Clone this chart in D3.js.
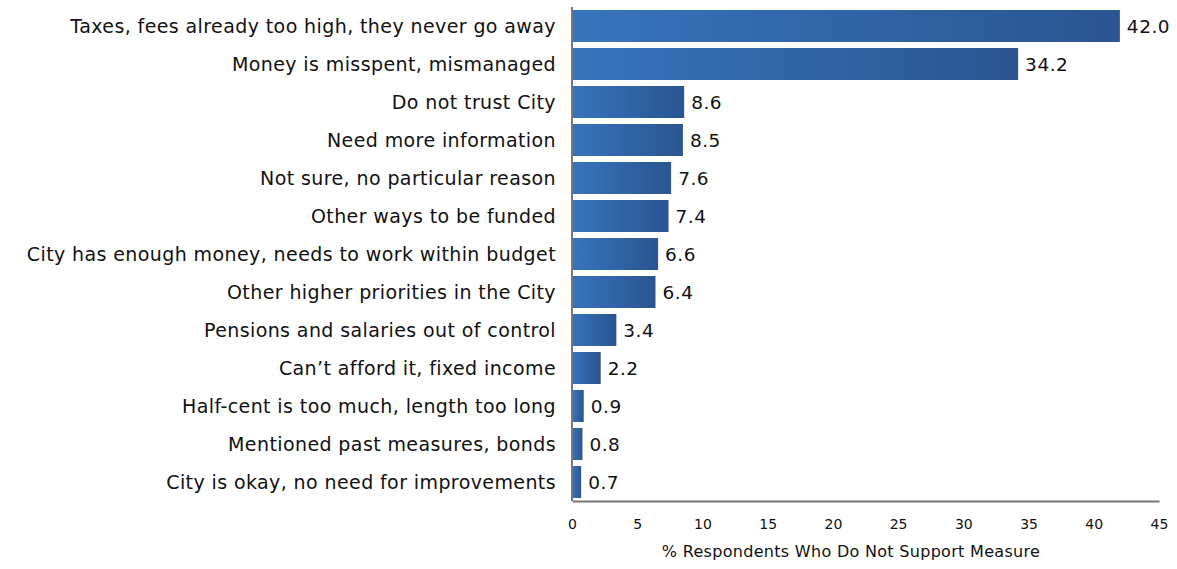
<!DOCTYPE html>
<html>
<head>
<meta charset="utf-8">
<script src="https://cdn.jsdelivr.net/npm/d3@7"></script>
<style>
  html, body { margin: 0; padding: 0; background: #fff; }
  svg { display: block; }
  text { font-family: "DejaVu Sans", sans-serif; fill: #111; }
</style>
</head>
<body>
<svg id="chart" width="1177" height="569"></svg>
<script>
// Reasons given for not supporting the measure
const categories = [
  "Taxes, fees already too high, they never go away",
  "Money is misspent, mismanaged",
  "Do not trust City",
  "Need more information",
  "Not sure, no particular reason",
  "Other ways to be funded",
  "City has enough money, needs to work within budget",
  "Other higher priorities in the City",
  "Pensions and salaries out of control",
  "Can\u2019t afford it, fixed income",
  "Half-cent is too much, length too long",
  "Mentioned past measures, bonds",
  "City is okay, no need for improvements"
];
const values = [42.0, 34.2, 8.6, 8.5, 7.6, 7.4, 6.6, 6.4, 3.4, 2.2, 0.9, 0.8, 0.7];
const xTicks = [0, 5, 10, 15, 20, 25, 30, 35, 40, 45];
const xTitle = "% Respondents Who Do Not Support Measure";

const svg = d3.select("#chart");
const margin = { top: 7, right: 18, bottom: 68, left: 572 };
const W = 1177, H = 569;
const innerW = W - margin.left - margin.right;
const innerH = H - margin.top - margin.bottom;

const x = d3.scaleLinear().domain([0, 45]).range([0, innerW]);
const y = d3.scaleBand().domain(categories).range([0, innerH]).paddingInner(0.158).paddingOuter(0.079);

const defs = svg.append("defs");
const grad = defs.append("linearGradient")
  .attr("id", "barGrad").attr("x1", "0%").attr("x2", "100%").attr("y1", "0%").attr("y2", "0%");
grad.append("stop").attr("offset", "0%").attr("stop-color", "#3774bd");
grad.append("stop").attr("offset", "100%").attr("stop-color", "#2a5592");

const g = svg.append("g").attr("transform", `translate(${margin.left},${margin.top})`);

g.selectAll("rect.bar").data(values).join("rect")
  .attr("class", "bar")
  .attr("x", 0)
  .attr("y", (d, i) => y(categories[i]))
  .attr("width", d => x(d))
  .attr("height", y.bandwidth())
  .attr("fill", "url(#barGrad)");

g.selectAll("text.val").data(values).join("text")
  .attr("class", "val")
  .attr("x", d => x(d) + 7)
  .attr("y", (d, i) => y(categories[i]) + y.bandwidth() / 2)
  .attr("dy", "0.36em")
  .attr("font-size", 18.5)
  .attr("letter-spacing", 0.5)
  .text(d => d.toFixed(1));

// category labels
g.selectAll("text.cat").data(categories).join("text")
  .attr("class", "cat")
  .attr("x", -16)
  .attr("y", d => y(d) + y.bandwidth() / 2)
  .attr("dy", "0.36em")
  .attr("text-anchor", "end")
  .attr("font-size", 19)
  .attr("letter-spacing", 0.4)
  .text(d => d);

// axes
const xAxis = d3.axisBottom(x).tickValues(xTicks).tickSize(0).tickPadding(18).tickFormat(d3.format("d"));
const xg = g.append("g").attr("transform", `translate(0,${innerH})`).call(xAxis);
xg.select(".domain").attr("stroke", "#777").attr("stroke-width", 2);
xg.selectAll("text").attr("font-size", 14).attr("font-family", "DejaVu Sans, sans-serif").attr("fill", "#111");

g.append("line")
  .attr("x1", 0).attr("x2", 0).attr("y1", 0).attr("y2", innerH)
  .attr("stroke", "#777").attr("stroke-width", 2);

g.append("text")
  .attr("x", 279)
  .attr("y", innerH + 56)
  .attr("text-anchor", "middle")
  .attr("font-size", 16)
  .attr("letter-spacing", 0.3)
  .text(xTitle);
</script>
</body>
</html>
